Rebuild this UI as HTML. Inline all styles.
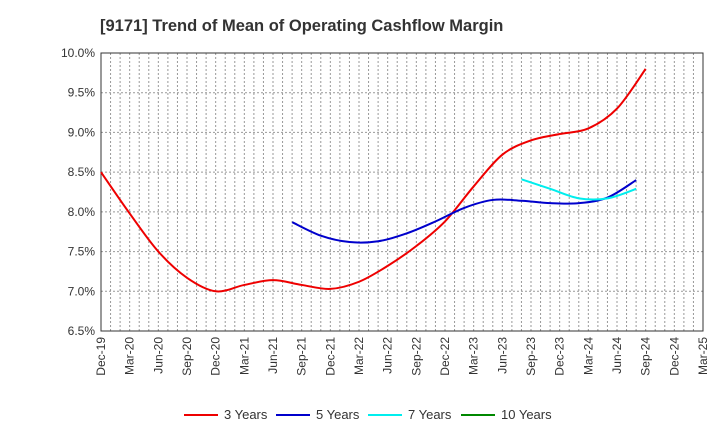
<!DOCTYPE html>
<html><head><meta charset="utf-8"><style>
body{margin:0;background:#fff;font-family:"Liberation Sans",sans-serif}
</style></head><body>
<svg id="c" width="720" height="440" xmlns="http://www.w3.org/2000/svg">
<text x="100" y="31" font-size="16.5" font-weight="bold" fill="#333">[9171]  Trend of Mean of Operating Cashflow Margin</text>
<g id="grid"></g><g id="axes"></g><g id="series"></g><g id="legend"></g>
</svg>
<script>
const xLabels=["Dec-19","Mar-20","Jun-20","Sep-20","Dec-20","Mar-21","Jun-21","Sep-21","Dec-21","Mar-22","Jun-22","Sep-22","Dec-22","Mar-23","Jun-23","Sep-23","Dec-23","Mar-24","Jun-24","Sep-24","Dec-24","Mar-25"];
const yTicks=[6.5,7.0,7.5,8.0,8.5,9.0,9.5,10.0];
const s3=[8.50,7.98,7.50,7.17,7.00,7.08,7.14,7.08,7.03,7.12,7.32,7.57,7.88,8.32,8.72,8.90,8.98,9.05,9.30,9.80];
const s3start=0;
const s5=[7.87,7.70,7.62,7.63,7.73,7.88,8.05,8.15,8.14,8.11,8.11,8.18,8.40];
const s5start=6.67;
const s7=[8.41,8.29,8.17,8.17,8.29];
const s7start=14.67;
const s10=[];
const s10start=0;
const L=101,R=703,T=53,B=331;
const NS="http://www.w3.org/2000/svg";
const x=i=>L+(R-L)*i/(xLabels.length-1);
const y=v=>B-(v-6.5)/(10-6.5)*(B-T);
function mk(tag,at,parent){const e=document.createElementNS(NS,tag);for(const k in at)e.setAttribute(k,at[k]);document.getElementById(parent).appendChild(e);return e;}
const nm=(xLabels.length-1)*3;
for(let m=1;m<nm;m++){const gx=L+(R-L)*m/nm;
const e=mk('line',{x1:gx,x2:gx,y1:T,y2:B,stroke:'#999','stroke-dasharray':'2,2','stroke-width':1},'grid');

}
yTicks.forEach(v=>{
const e=mk('line',{x1:L,x2:R,y1:y(v),y2:y(v),stroke:'#999','stroke-dasharray':'2,2'},'grid');


const t=mk('text',{x:L-6,y:y(v)+4,'text-anchor':'end','font-size':12,fill:'#333'},'axes');
t.textContent=v.toFixed(1)+'%';

});
const fr=mk('rect',{x:L,y:T,width:R-L,height:B-T,fill:'none',stroke:'#333'},'axes');


xLabels.forEach((l,i)=>{
const t=mk('text',{x:0,y:0,'text-anchor':'end','font-size':12,fill:'#333',transform:`translate(${x(i)+4},${B+6}) rotate(-90)`},'axes');
t.textContent=l;

});
function path(vals,st){const p=vals.map((v,i)=>[x(st+i),y(v)]);if(!p.length)return '';
let d=`M${p[0][0]},${p[0][1]}`;
for(let i=0;i<p.length-1;i++){const p0=p[i-1]||p[i],p1=p[i],p2=p[i+1],p3=p[i+2]||p2;
d+=` C${p1[0]+(p2[0]-p0[0])/6},${p1[1]+(p2[1]-p0[1])/6} ${p2[0]-(p3[0]-p1[0])/6},${p2[1]-(p3[1]-p1[1])/6} ${p2[0]},${p2[1]}`;}
return d;}
const ser=[[s3,s3start,'#e00','3 Years'],[s5,s5start,'#00c','5 Years'],[s7,s7start,'#0ee','7 Years'],[s10,s10start,'#080','10 Years']];
ser.forEach((s,k)=>{
if(s[0].length){const e=mk('path',{d:path(s[0],s[1]),fill:'none',stroke:s[2],'stroke-width':2},'series');

}
const lx=[184,276,368,461][k];
const ll=mk('line',{x1:lx,x2:lx+34,y1:415,y2:415,stroke:s[2],'stroke-width':2},'legend');


const t=mk('text',{x:lx+40,y:419,'font-size':13,fill:'#333'},'legend');
t.textContent=s[3];

});
</script>
</body></html>
